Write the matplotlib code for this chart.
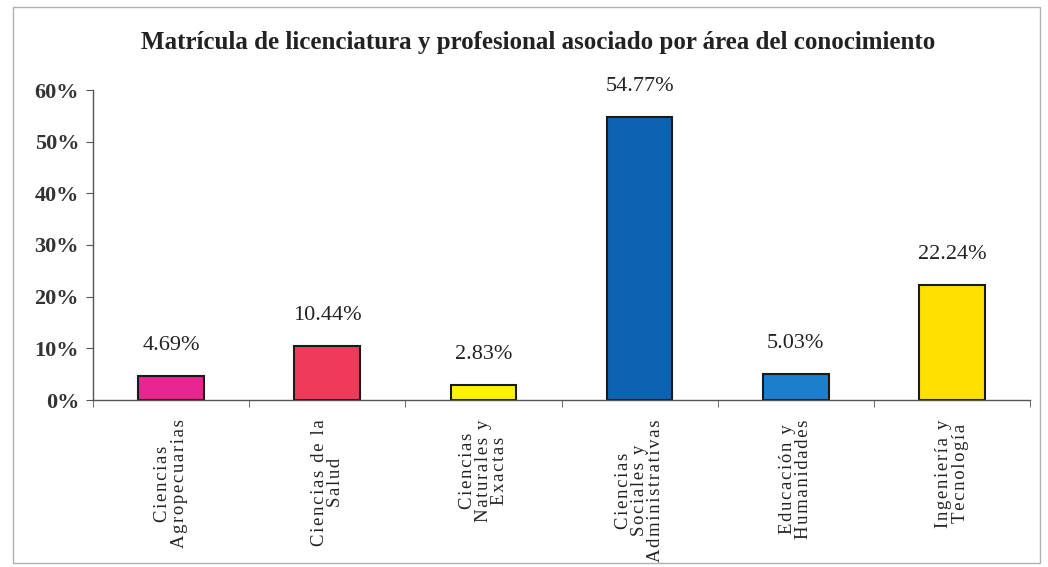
import matplotlib.pyplot as plt
from matplotlib.patches import Rectangle
from matplotlib.ticker import PercentFormatter
import numpy as np

plt.rcParams['font.family'] = ['Liberation Serif', 'DejaVu Serif']

areas = ['Ciencias\nAgropecuarias', 'Ciencias de la\nSalud', 'Ciencias\nNaturales y\nExactas',
         'Ciencias\nSociales y\nAdministrativas', 'Educación y\nHumanidades', 'Ingeniería y\nTecnología']
shares = [4.69, 10.44, 2.83, 54.77, 5.03, 22.24]
bar_colors = ['#E8268F', '#F03A5C', '#FFF200', '#0C63B2', '#1B7FCC', '#FFE000']
y_ticks = [0, 10, 20, 30, 40, 50, 60]


def spaced(label):
    # the scanned labels are letter-spaced; hair spaces get close to that
    return '\n'.join('\u200a'.join(line) for line in label.split('\n'))


fig = plt.figure(figsize=(10.48, 5.67), dpi=100)
ax = fig.add_axes([93 / 1048, 1 - 400 / 567, (1030 - 93) / 1048, 310 / 567])

x = np.arange(len(areas))
ax.bar(x, shares, width=0.42, color=bar_colors, edgecolor='#1a1a1a', linewidth=1.5)
for xi, v in zip(x, shares):
    ax.annotate(f'{v:.2f}%', (xi, v), xytext=(0, 22), textcoords='offset points',
                ha='center', va='center', fontsize=16, color='#222222')

ax.set_xlim(-0.5, len(areas) - 0.5)
ax.set_ylim(0, 60)
ax.set_yticks(y_ticks)
ax.yaxis.set_major_formatter(PercentFormatter(decimals=0))
for lab in ax.get_yticklabels():
    lab.set_fontweight('bold')
    lab.set_fontsize(16)
    lab.set_color('#333333')

ax.set_xticks(x)
ax.set_xticklabels([spaced(a) for a in areas], rotation=90, fontsize=13.5, color='#222222',
                   ha='center', va='top', multialignment='center', linespacing=0.95)
ax.tick_params(axis='x', length=0, pad=14)
ax.set_xticks(np.arange(len(areas) + 1) - 0.5, minor=True)
ax.tick_params(axis='x', which='minor', length=5, color='#555555')
ax.tick_params(axis='y', length=5, color='#555555', pad=5)

for side in ['top', 'right']:
    ax.spines[side].set_visible(False)
for side in ['left', 'bottom']:
    ax.spines[side].set_color('#555555')
    ax.spines[side].set_linewidth(1.0)

fig.text(538 / 1048, 1 - 42 / 567, 'Matrícula de licenciatura y profesional asociado por área del conocimiento',
         ha='center', va='center', fontsize=18, fontweight='bold', color='#222222')

fig.patches.append(Rectangle((13 / 1048, 1 - 563 / 567), 1027 / 1048, 556 / 567,
                             transform=fig.transFigure, fill=False, edgecolor='#b0b0b0', linewidth=1))

fig.savefig('out.png', dpi=100)
